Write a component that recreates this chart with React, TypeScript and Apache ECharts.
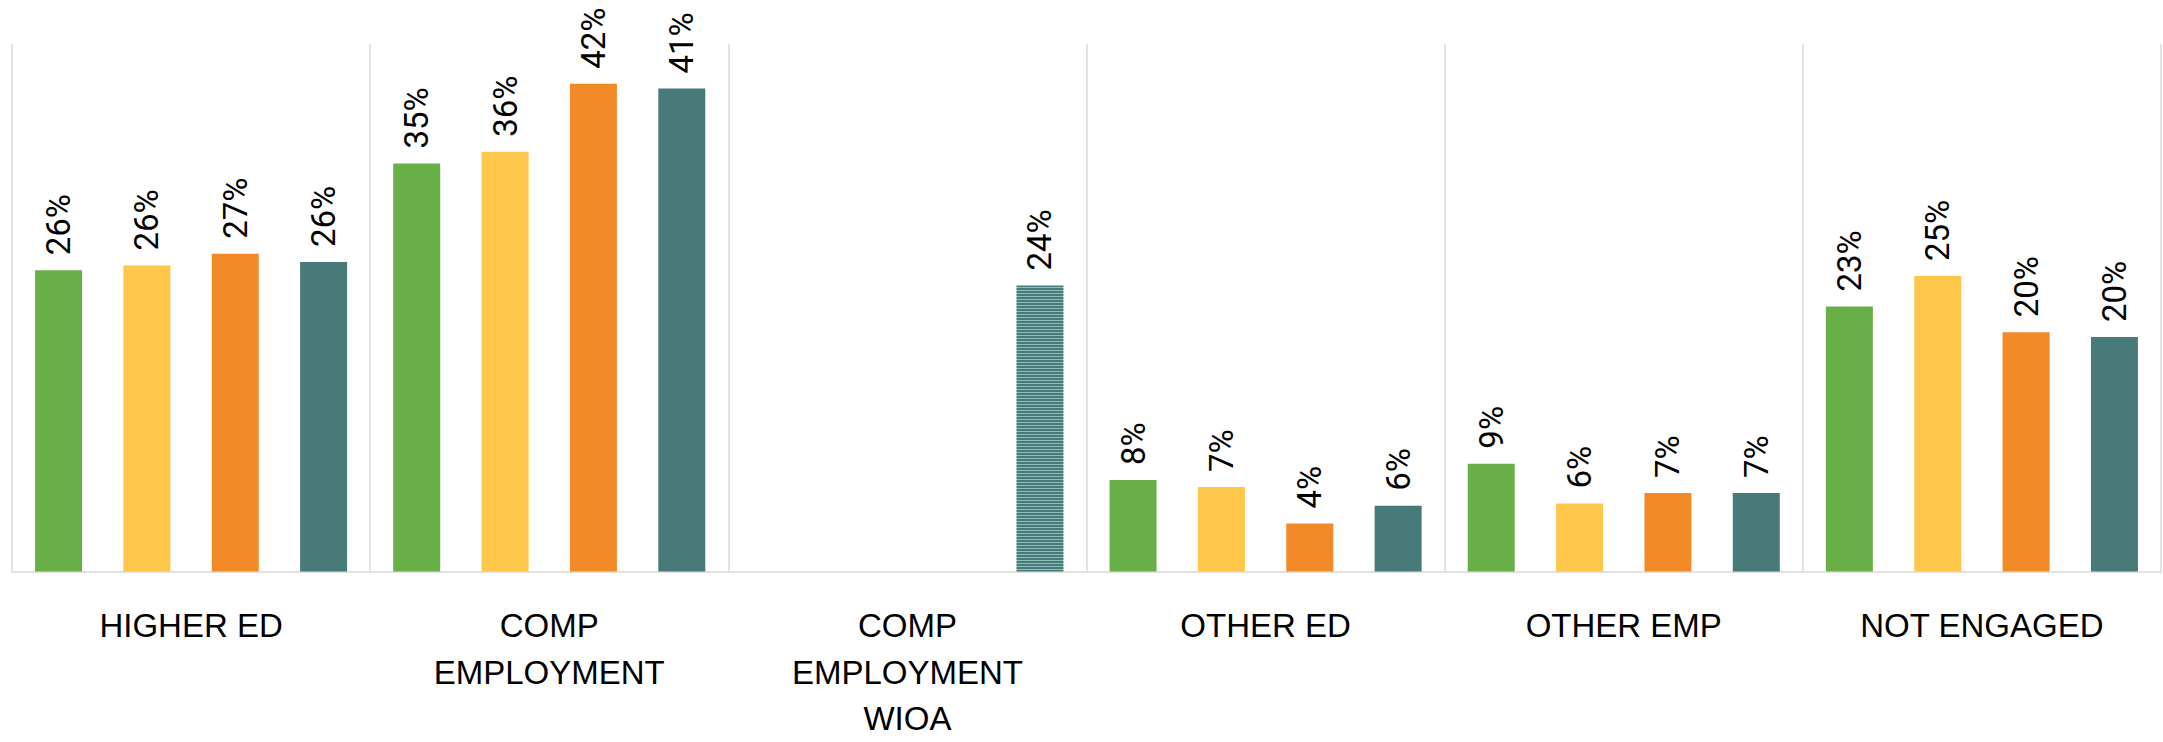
import React, { useEffect, useRef } from "react";
import * as echarts from "echarts";

const categories = [
  "HIGHER ED",
  "COMP\nEMPLOYMENT",
  "COMP\nEMPLOYMENT\nWIOA",
  "OTHER ED",
  "OTHER EMP",
  "NOT ENGAGED",
];

const seriesNames = ["Series 1", "Series 2", "Series 3", "Series 4"];
const greenValues = [25.7, 34.8, null, 7.8, 9.2, 22.6];
const yellowValues = [26.1, 35.8, null, 7.2, 5.8, 25.2];
const orangeValues = [27.1, 41.6, null, 4.1, 6.7, 20.4];
const tealValues = [26.4, 41.2, 24.4, 5.6, 6.7, 20.0];
const patternedIndex = 2;

const colors = ["#67AF46", "#FFC749", "#F28A27", "#477A79"];

function makeStripePattern() {
  const c = document.createElement("canvas");
  c.width = 4;
  c.height = 3;
  const ctx = c.getContext("2d")!;
  ctx.fillStyle = "#477A79";
  ctx.fillRect(0, 0, 4, 3);
  ctx.fillStyle = "#8DBFBA";
  ctx.fillRect(0, 2, 4, 1);
  return c;
}

export default function App() {
  const ref = useRef<HTMLDivElement>(null);
  useEffect(() => {
    document.body.style.margin = "0";
    const chart = echarts.init(ref.current!, null, { renderer: "svg" });
    const pattern = makeStripePattern();
    const all = [greenValues, yellowValues, orangeValues, tealValues];
    const series = all.map((vals, si) => ({
      name: seriesNames[si],
      type: "bar",
      barWidth: 47,
      barGap: "88%",
      itemStyle: { color: colors[si] },
      label: {
        show: true,
        position: "top",
        rotate: 90,
        align: "left",
        verticalAlign: "middle",
        distance: 15,
        color: "#000",
        fontSize: 33,
        fontFamily: "Roboto, 'Liberation Sans', sans-serif",
        formatter: (p: any) => Math.round(p.value) + "%",
      },
      data: vals.map((v, i) =>
        si === 3 && i === patternedIndex && v != null
          ? { value: v, itemStyle: { color: { image: pattern, repeat: "repeat" } } }
          : v
      ),
    }));
    chart.setOption({
      animation: false,
      grid: { left: 12, right: 2, top: 44, bottom: 157, containLabel: false },
      xAxis: {
        type: "category",
        data: categories,
        axisTick: { show: false },
        axisLine: { show: true, lineStyle: { color: "#D9D9D9", width: 1.5 } },
        splitLine: { show: true, lineStyle: { color: "#D9D9D9", width: 1.5 } },
        axisLabel: {
          interval: 0,
          margin: 31,
          color: "#000",
          fontSize: 33,
          lineHeight: 46.5,
          fontFamily: "'Liberation Sans', Arial, sans-serif",
        },
      },
      yAxis: {
        type: "value",
        min: 0,
        max: 45,
        show: false,
        splitLine: { show: false },
      },
      series,
    });
    return () => chart.dispose();
  }, []);
  return <div ref={ref} style={{ width: 2163, height: 742 }} />;
}
